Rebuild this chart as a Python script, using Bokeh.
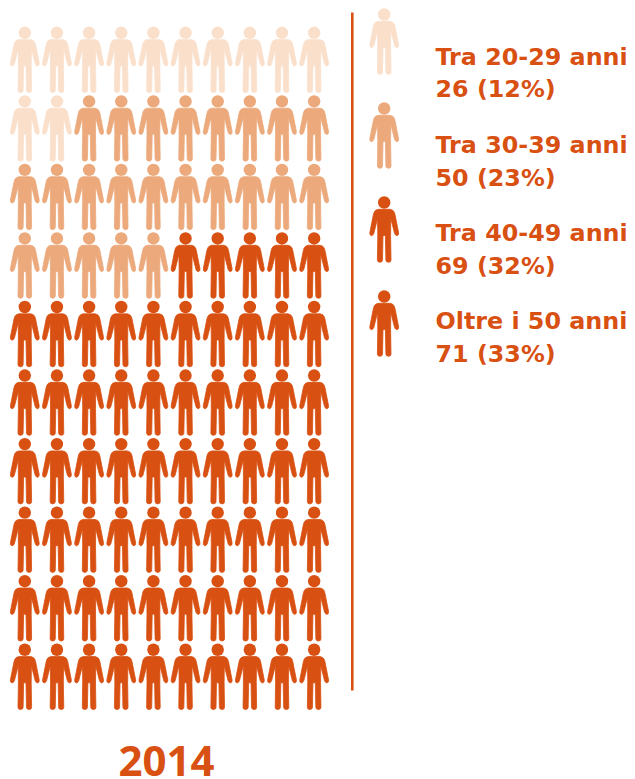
from bokeh.plotting import figure
from bokeh.embed import file_html
from bokeh.resources import INLINE
from bokeh.core.properties import value
from bokeh.models import Range1d

year = "2014"
age_labels = ["Tra 20-29 anni", "Tra 30-39 anni", "Tra 40-49 anni", "Oltre i 50 anni"]
counts = [26, 50, 69, 71]
percents = [12, 23, 32, 33]
colors = ["#FADFCB", "#ECA97C", "#D85012", "#D85012"]
DARK = "#D85012"

half = [(0.0, 6.8), (6.0, 6.8), (8.6, 7.8), (10.0, 9.6), (10.8, 12.0), (14.4, 30.2), (14.2, 32.2), (12.8, 33.2),
        (11.4, 32.6), (10.4, 31.0), (6.6, 16.0), (6.4, 33.0), (6.8, 57.8), (6.2, 59.2), (4.4, 59.8),
        (2.4, 59.2), (1.7, 57.8), (1.2, 33.0), (0.0, 33.0)]
shape = half + [(-x, y) for x, y in reversed(half)]

p = figure(width=635, height=779, output_backend="svg", toolbar_location=None,
           x_range=Range1d(0, 635), y_range=Range1d(779, 0), margin=(0, 0, 0, 0),
           min_border=0, outline_line_color=None, background_fill_color="white", border_fill_color="white")
p.axis.visible = False
p.grid.visible = False


def person(cx, cy, color):
    p.patch([cx + x for x, _ in shape], [cy + y for _, y in shape], fill_color=color, line_color=color,
            line_width=0.8, line_join="round")
    p.scatter([cx], [cy], marker="circle", size=12.4, fill_color=color, line_color=None)


cut = []
tot = 0
for v in percents:
    tot += v
    cut.append(tot)
COLS, ROWS = 10, 10
for i in range(COLS * ROWS):
    r, c = divmod(i, COLS)
    k = next(j for j, t in enumerate(cut) if i < t)
    person(24.3 + c * 32.15, 32.3 + r * 68.55, colors[k])

p.line([351.8, 351.8], [12, 690], line_color=DARK, line_width=2.6)

for k, (lab, n, pc, col) in enumerate(zip(age_labels, counts, percents, colors)):
    person(383.7, 14 + k * 94, col)
    y1 = 56.3 + k * 88.2
    for yy, s in ((y1, lab), (y1 + 32.5, f"{n} ({pc}%)")):
        p.text([435], [yy], text=[s], text_font=value("DejaVu Sans"), text_font_style="bold",
               text_font_size="23.8px", text_color=DARK, text_baseline="alphabetic")

p.text([166], [760], text=[year], text_font=value("Open Sans"), text_font_style="bold", text_font_size="42px",
       text_color=DARK, text_align="center", text_baseline="alphabetic")

open("out.html", "w").write(file_html(p, INLINE))
